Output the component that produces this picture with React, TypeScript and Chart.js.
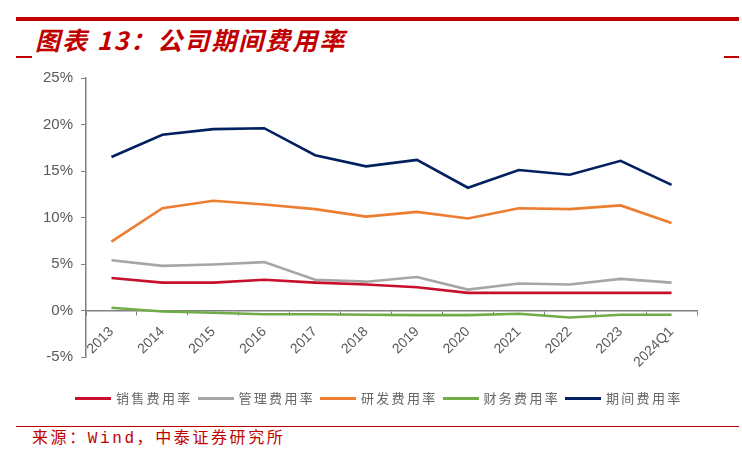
import React, { useEffect, useRef } from "react";
import { Chart, registerables } from "chart.js";

Chart.register(...registerables);

const categories = ["2013", "2014", "2015", "2016", "2017", "2018", "2019", "2020", "2021", "2022", "2023", "2024Q1"];
const salesRate = [3.5, 3.0, 3.0, 3.3, 3.0, 2.8, 2.5, 1.9, 1.9, 1.9, 1.9, 1.9];
const adminRate = [5.4, 4.8, 4.95, 5.2, 3.3, 3.1, 3.6, 2.25, 2.9, 2.8, 3.4, 3.0];
const rdRate = [7.4, 11.0, 11.8, 11.4, 10.9, 10.1, 10.6, 9.9, 11.0, 10.9, 11.3, 9.4];
const finRate = [0.3, -0.1, -0.25, -0.4, -0.4, -0.45, -0.5, -0.5, -0.35, -0.75, -0.45, -0.45];
const totalRate = [16.5, 18.9, 19.5, 19.6, 16.7, 15.5, 16.2, 13.2, 15.1, 14.6, 16.1, 13.5];

const seriesNames = ["销售费用率", "管理费用率", "研发费用率", "财务费用率", "期间费用率"];
const seriesColors = ["#C8102E", "#A6A6A6", "#ED7D31", "#70AD47", "#002060"];
const seriesValues = [salesRate, adminRate, rdRate, finRate, totalRate];

const yMin = -5;
const yMax = 25;
const yStep = 5;

const titleText = "图表 13：公司期间费用率";
const sourceText = "来源：Wind，中泰证券研究所";

const RED = "#C00000";

export default function App() {
  const canvasRef = useRef<HTMLCanvasElement | null>(null);

  useEffect(() => {
    const canvas = canvasRef.current;
    if (!canvas) return;
    const chart = new Chart(canvas, {
      type: "line",
      data: {
        labels: categories,
        datasets: seriesNames.map((name, i) => ({
          label: name,
          data: seriesValues[i],
          borderColor: seriesColors[i],
          backgroundColor: seriesColors[i],
          borderWidth: 2.6,
          pointRadius: 0,
          tension: 0,
          fill: false,
        })),
      },
      options: {
        responsive: false,
        animation: false,
        layout: { padding: { top: 18, right: 45, bottom: 33, left: 0 } },
        plugins: { legend: { display: false }, tooltip: { enabled: false } },
        scales: {
          x: {
            type: "category",
            position: { y: 0 } as any,
            offset: true,
            grid: {
              display: true,
              drawOnChartArea: false,
              drawTicks: true,
              tickLength: 4,
              offset: true,
              color: "#808080",
              lineWidth: 1,
            },
            border: { display: true, color: "#808080", width: 1.5 },
            ticks: {
              autoSkip: false,
              maxRotation: 45,
              minRotation: 45,
              padding: 9,
              color: "#595959",
              font: { size: 14, family: "'Liberation Sans', Arial, sans-serif" },
            },
          },
          y: {
            min: yMin,
            max: yMax,
            afterFit: (s: any) => {
              s.width = 86;
            },
            grid: {
              display: true,
              drawOnChartArea: false,
              drawTicks: true,
              tickLength: 5,
              color: "#808080",
            },
            border: { display: true, color: "#808080", width: 1.5 },
            ticks: {
              stepSize: yStep,
              padding: 8,
              color: "#595959",
              font: { size: 15, family: "'Liberation Sans', Arial, sans-serif" },
              callback: (v: any) => `${v}%`,
            },
          },
        },
      },
    });
    return () => chart.destroy();
  }, []);

  return (
    <div
      style={{
        position: "absolute",
        left: 0,
        top: 0,
        width: 742,
        height: 459,
        background: "#fff",
        overflow: "hidden",
        fontFamily: "'Noto Sans CJK SC', sans-serif",
      }}
    >
      <div style={{ position: "absolute", left: 16, top: 17, width: 723, height: 4, background: RED }} />
      <div
        style={{
          position: "absolute",
          left: 35,
          top: 22,
          fontSize: 25,
          lineHeight: "34px",
          fontWeight: 700,
          fontStyle: "italic",
          letterSpacing: 2,
          color: RED,
          whiteSpace: "nowrap",
        }}
      >
        {titleText}
      </div>
      <div style={{ position: "absolute", left: 16, top: 56, width: 16, height: 1.5, background: RED }} />
      <div style={{ position: "absolute", left: 724, top: 56, width: 15, height: 1.5, background: RED }} />
      <canvas
        ref={canvasRef}
        width={742}
        height={330}
        style={{ position: "absolute", left: 0, top: 60, width: 742, height: 330 }}
      />
      {seriesNames.map((name, i) => (
        <div
          key={name}
          style={{
            position: "absolute",
            left: 75 + i * 122.5,
            top: 388,
            height: 20,
            display: "flex",
            alignItems: "center",
            whiteSpace: "nowrap",
          }}
        >
          <div style={{ width: 36, height: 3, background: seriesColors[i] }} />
          <span
            style={{
              marginLeft: 5,
              fontSize: 13,
              letterSpacing: 2.3,
              color: "#666",
              lineHeight: "20px",
            }}
          >
            {name}
          </span>
        </div>
      ))}
      <div style={{ position: "absolute", left: 16, top: 425.5, width: 723, height: 1.5, background: RED }} />
      <div
        style={{
          position: "absolute",
          left: 32,
          top: 428,
          fontSize: 16,
          lineHeight: "22px",
          letterSpacing: 2.6,
          color: RED,
          whiteSpace: "nowrap",
          fontFamily: "'Liberation Mono', 'Noto Sans CJK SC', monospace",
        }}
      >
        {sourceText}
      </div>
    </div>
  );
}
